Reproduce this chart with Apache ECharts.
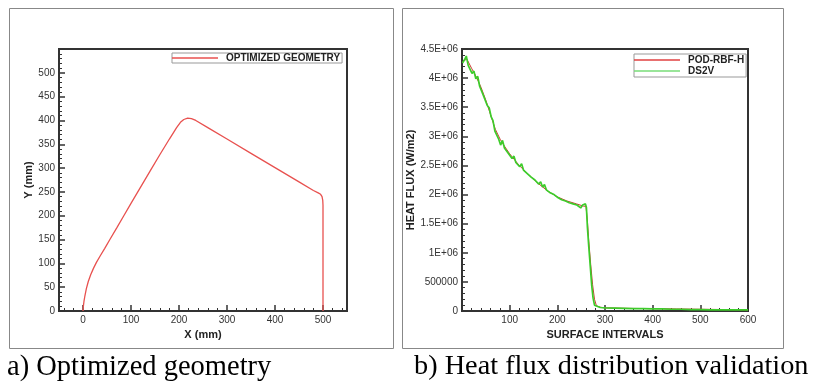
<!DOCTYPE html>
<html>
<head>
<meta charset="utf-8">
<script src="https://cdn.jsdelivr.net/npm/echarts@6/dist/echarts.min.js"></script>
<style>
html,body{margin:0;padding:0;background:#fff;}
#c{width:815px;height:385px;}
</style>
</head>
<body>
<div id="c"></div>
<script>
// ---- Panel a: optimized geometry (mm) ----
var geomX = [0, 0.5, 2, 4, 7, 11, 16, 22, 28, 36, 45, 56, 70, 85, 100, 120, 140, 160, 180, 195, 203, 210, 218, 226, 235, 260, 300, 350, 400, 450, 480, 490, 495, 498, 499.5, 500, 500];
var geomY = [0, 8, 20, 32, 47, 62, 76, 90, 102, 116, 131, 150, 174, 200, 226, 260, 294, 328, 361, 385, 396, 402, 405, 404, 400, 385, 361, 331, 301, 271, 253, 248, 245, 240, 232, 222, 0];
var geomXTicks = [0, 100, 200, 300, 400, 500];
var geomXMinorTicks = [-40, -20, 20, 40, 60, 80, 120, 140, 160, 180, 220, 240, 260, 280, 320, 340, 360, 380, 420, 440, 460, 480, 520, 540];

// ---- Panel b: heat flux ----
var podX = [1, 10, 20, 30, 40, 50, 60, 70, 80, 90, 100, 120, 140, 160, 180, 200, 220, 240, 255, 260, 263, 266, 270, 274, 278, 282, 290, 300, 350, 400, 450, 500, 550, 600];
var podY = [4.28e6, 4.33e6, 4.17e6, 4.02e6, 3.84e6, 3.62e6, 3.37e6, 3.12e6, 2.95e6, 2.82e6, 2.70e6, 2.50e6, 2.34e6, 2.19e6, 2.06e6, 1.96e6, 1.89e6, 1.84e6, 1.80e6, 1.80e6, 1.56e6, 1.20e6, 0.80e6, 0.45e6, 0.20e6, 0.09e6, 0.065e6, 0.055e6, 0.045e6, 0.04e6, 0.035e6, 0.03e6, 0.025e6, 0.02e6];

var ds2vX = [1, 5, 9, 13, 17, 21, 25, 29, 33, 37, 41, 45, 49, 53, 57, 61, 65, 69, 73, 77, 81, 85, 89, 93, 97, 101, 105, 109, 113, 117, 121, 125, 129, 133, 137, 141, 145, 149, 153, 157, 161, 165, 169, 173, 177, 181, 185, 189, 193, 197, 201, 205, 209, 213, 217, 221, 225, 229, 233, 237, 241, 245, 249, 253, 257, 259, 261, 263, 266, 269, 272, 275, 278, 282, 290, 300, 320, 340, 360, 380, 400, 420, 440, 460, 480, 500, 520, 540, 560, 580, 600];
var ds2vY = [4.26e6, 4.31e6, 4.38e6, 4.22e6, 4.20e6, 4.08e6, 4.12e6, 3.99e6, 4.03e6, 3.86e6, 3.84e6, 3.70e6, 3.68e6, 3.53e6, 3.49e6, 3.34e6, 3.27e6, 3.09e6, 3.08e6, 2.95e6, 2.85e6, 2.93e6, 2.80e6, 2.82e6, 2.71e6, 2.72e6, 2.62e6, 2.66e6, 2.55e6, 2.58e6, 2.48e6, 2.53e6, 2.42e6, 2.45e6, 2.36e6, 2.39e6, 2.30e6, 2.33e6, 2.25e6, 2.27e6, 2.18e6, 2.22e6, 2.13e6, 2.17e6, 2.08e6, 2.11e6, 2.03e6, 2.06e6, 2.00e6, 2.02e6, 1.95e6, 1.98e6, 1.91e6, 1.94e6, 1.89e6, 1.92e6, 1.86e6, 1.89e6, 1.84e6, 1.87e6, 1.82e6, 1.84e6, 1.77e6, 1.82e6, 1.79e6, 1.84e6, 1.78e6, 1.45e6, 1.10e6, 0.78e6, 0.45e6, 0.22e6, 0.10e6, 0.07e6, 0.06e6, 0.055e6, 0.05e6, 0.045e6, 0.04e6, 0.04e6, 0.035e6, 0.035e6, 0.03e6, 0.03e6, 0.025e6, 0.025e6, 0.02e6, 0.02e6, 0.02e6, 0.02e6, 0.02e6];
var fluxYLabels = {0: '0', 500000: '500000', 1000000: '1E+06', 1500000: '1.5E+06', 2000000: '2E+06', 2500000: '2.5E+06', 3000000: '3E+06', 3500000: '3.5E+06', 4000000: '4E+06', 4500000: '4.5E+06'};

var captionA = 'a) Optimized geometry';
var captionB = 'b) Heat flux distribution validation';

function pairs(xs, ys) { return xs.map(function (x, i) { return [x, ys[i]]; }); }

var FONT = 'Liberation Sans, Arial, sans-serif';
var SERIF = 'Liberation Serif, Times New Roman, serif';
var axisColor = '#333';
var labelStyle = { color: '#333', fontFamily: FONT, fontSize: 10 };
var nameStyle = { color: '#222', fontFamily: FONT, fontSize: 11, fontWeight: 'bold' };

var chart = echarts.init(document.getElementById('c'), null, { renderer: 'canvas' });
chart.setOption({
  animation: false,
  backgroundColor: '#fff',
  graphic: [
    { type: 'rect', shape: { x: 9.5, y: 8.5, width: 384, height: 340 }, style: { fill: 'none', stroke: '#888', lineWidth: 1 }, z: 0 },
    { type: 'rect', shape: { x: 402.5, y: 8.5, width: 381, height: 340 }, style: { fill: 'none', stroke: '#888', lineWidth: 1 }, z: 0 },
    { type: 'text', x: 7, y: 353, style: { text: captionA, fontFamily: SERIF, fontSize: 28.5, fill: '#000', verticalAlign: 'top' } },
    { type: 'text', x: 414, y: 353, style: { text: captionB, fontFamily: SERIF, fontSize: 28.3, fill: '#000', verticalAlign: 'top' } }
  ],
  grid: [
    { left: 59, top: 49, width: 288, height: 262, show: true, borderColor: axisColor, borderWidth: 2, containLabel: false },
    { left: 462, top: 49, width: 286, height: 262, show: true, borderColor: axisColor, borderWidth: 2, containLabel: false }
  ],
  legend: [
    {
      left: 172, top: 53, orient: 'vertical', icon: 'rect', itemWidth: 46, itemHeight: 1.3, itemGap: 2,
      padding: [0, 2, 0, 0], borderColor: '#999', borderWidth: 1, backgroundColor: '#fff',
      textStyle: { fontFamily: FONT, fontSize: 10, fontWeight: 'bold', color: '#222', padding: [0, 0, 0, 3] },
      data: ['OPTIMIZED GEOMETRY']
    },
    {
      left: 634, top: 54, orient: 'vertical', icon: 'rect', itemWidth: 46, itemHeight: 1.3, itemGap: 1,
      padding: [1, 2, 1, 0], borderColor: '#999', borderWidth: 1, backgroundColor: '#fff',
      textStyle: { fontFamily: FONT, fontSize: 10, fontWeight: 'bold', color: '#222', padding: [0, 0, 0, 3] },
      data: ['POD-RBF-H', 'DS2V']
    }
  ],
  xAxis: [
    {
      gridIndex: 0, type: 'value', min: -50, max: 550, position: 'bottom',
      name: 'X (mm)', nameLocation: 'middle', nameGap: 12, nameTextStyle: nameStyle,
      axisLine: { show: true, onZero: false, lineStyle: { color: axisColor, width: 2 } },
      axisTick: { show: true, inside: true, length: 6, customValues: geomXTicks, lineStyle: { color: axisColor, width: 1.5 } },
      axisLabel: { show: true, customValues: geomXTicks, margin: 4, ...labelStyle },
      splitLine: { show: false }
    },
    {
      gridIndex: 0, type: 'value', min: -50, max: 550, position: 'bottom',
      axisLine: { show: false },
      axisTick: { show: true, inside: true, length: 3, customValues: geomXMinorTicks, lineStyle: { color: axisColor, width: 1 } },
      axisLabel: { show: false },
      splitLine: { show: false }
    },
    {
      gridIndex: 1, type: 'value', min: 0, max: 600, interval: 100,
      name: 'SURFACE INTERVALS', nameLocation: 'middle', nameGap: 12, nameTextStyle: nameStyle,
      axisLine: { show: true, onZero: false, lineStyle: { color: axisColor, width: 2 } },
      axisTick: { show: true, inside: true, length: 6, lineStyle: { color: axisColor, width: 1.5 } },
      minorTick: { show: true, splitNumber: 5, length: 3, lineStyle: { color: axisColor, width: 1 } },
      axisLabel: { showMinLabel: false, margin: 4, ...labelStyle, formatter: function (v) { return v === 0 ? '' : String(v); } },
      splitLine: { show: false }
    }
  ],
  yAxis: [
    {
      gridIndex: 0, type: 'value', min: 0, max: 550, interval: 50,
      name: 'Y (mm)', nameLocation: 'middle', nameGap: 21, nameRotate: 90, nameTextStyle: nameStyle,
      axisLine: { show: true, onZero: false, lineStyle: { color: axisColor, width: 2 } },
      axisTick: { show: true, inside: true, length: 6, lineStyle: { color: axisColor, width: 1.5 } },
      minorTick: { show: true, splitNumber: 5, length: 3, lineStyle: { color: axisColor, width: 1 } },
      axisLabel: { margin: 4, ...labelStyle, formatter: function (v) { return v > 500 ? '' : String(v); } },
      splitLine: { show: false }
    },
    {
      gridIndex: 1, type: 'value', min: 0, max: 4500000, interval: 500000,
      name: 'HEAT FLUX (W/m2)', nameLocation: 'middle', nameGap: 44, nameRotate: 90, nameTextStyle: nameStyle,
      axisLine: { show: true, onZero: false, lineStyle: { color: axisColor, width: 2 } },
      axisTick: { show: true, inside: true, length: 6, lineStyle: { color: axisColor, width: 1.5 } },
      minorTick: { show: true, splitNumber: 5, length: 3, lineStyle: { color: axisColor, width: 1 } },
      axisLabel: { margin: 4, ...labelStyle, formatter: function (v) { return fluxYLabels[v] !== undefined ? fluxYLabels[v] : ''; } },
      splitLine: { show: false }
    }
  ],
  series: [
    {
      name: 'OPTIMIZED GEOMETRY', type: 'line', xAxisIndex: 0, yAxisIndex: 0,
      data: pairs(geomX, geomY), symbol: 'none', smooth: false,
      lineStyle: { color: '#e8514f', width: 1.3 }, itemStyle: { color: '#e8514f' }
    },
    {
      name: 'POD-RBF-H', type: 'line', xAxisIndex: 2, yAxisIndex: 1,
      data: pairs(podX, podY), symbol: 'none', smooth: false,
      lineStyle: { color: '#c83a30', width: 1 }, itemStyle: { color: '#e04040' }
    },
    {
      name: 'DS2V', type: 'line', xAxisIndex: 2, yAxisIndex: 1,
      data: pairs(ds2vX, ds2vY), symbol: 'none', smooth: false,
      lineStyle: { color: '#3ccc2a', width: 1.7 }, itemStyle: { color: '#77dd77' }
    }
  ]
});
</script>
</body>
</html>
